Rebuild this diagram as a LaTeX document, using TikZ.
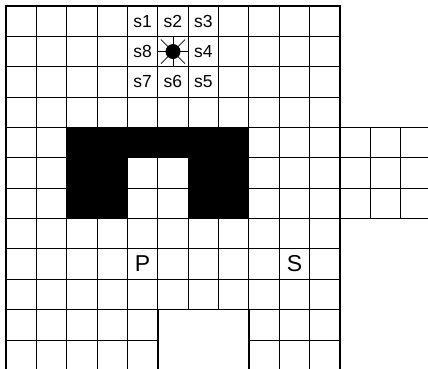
\documentclass[tikz,border=0pt]{standalone}
\usepackage{fontspec}
\setmainfont{Liberation Sans}
\begin{document}
\begin{tikzpicture}[x=30.36pt,y=-30.36pt,
  gridline/.style={line width=0.8pt,black},
  border/.style={line width=1.5pt,black,line cap=rect},
  blockcell/.style={fill=black,draw=black,line width=0.8pt},
  slabel/.style={inner sep=0pt,font=\fontsize{17.5}{19}\selectfont},
  biglabel/.style={inner sep=0pt,font=\fontsize{23}{25}\selectfont},
  ray/.style={line width=0.7pt,black}]
\useasboundingbox (-0.1976,-0.1976) rectangle (13.900,11.956);
\clip (-0.1976,-0.1976) rectangle (13.900,11.956);
% horizontal grid lines
\foreach \j in {0,...,10} \draw[gridline] (0,\j) -- (11,\j);
\foreach \j in {4,...,7} \draw[gridline] (11,\j) -- (14.3,\j);
\draw[gridline] (0,11) -- (5,11);
\draw[gridline] (8,11) -- (11,11);
% vertical grid lines
\foreach \i in {0,...,11} \draw[gridline] (\i,0) -- (\i,10);
\foreach \i in {0,...,5} \draw[gridline] (\i,10) -- (\i,12.3);
\foreach \i in {8,...,11} \draw[gridline] (\i,10) -- (\i,12.3);
\foreach \i in {12,13} \draw[gridline] (\i,4) -- (\i,7);
% obstacle
\draw[blockcell] (2,4) rectangle (8,5);
\draw[blockcell] (2,5) rectangle (4,7);
\draw[blockcell] (6,5) rectangle (8,7);
% borders
\draw[border] (0,12.3) -- (0,0) -- (11,0) -- (11,12.3);
\draw[border] (11,4) -- (14.3,4);
\draw[border] (11,7) -- (14.3,7);
\draw[border] (5,12.3) -- (5,10) -- (8,10) -- (8,12.3);
% labels
\node[slabel] (s1) at (4.5,0.5) {s1};
\node[slabel] (s2) at (5.5,0.5) {s2};
\node[slabel] (s3) at (6.5,0.5) {s3};
\node[slabel] (s4) at (6.5,1.5) {s4};
\node[slabel] (s5) at (6.5,2.5) {s5};
\node[slabel] (s6) at (5.5,2.5) {s6};
\node[slabel] (s7) at (4.5,2.5) {s7};
\node[slabel] (s8) at (4.5,1.5) {s8};
% robot
\node[circle,fill=black,inner sep=0pt,minimum size=15pt] (robot) at (5.5,1.5) {};
\foreach \a in {0,90,180,270} \draw[ray] (robot.center) -- ++(\a:15pt);
\foreach \a in {45,135,225,315} \draw[ray] (robot.center) -- ++(\a:17pt);
\node[biglabel] (P) at (4.5,8.5) {P};
\node[biglabel] (S) at (9.5,8.5) {S};
\end{tikzpicture}
\end{document}
